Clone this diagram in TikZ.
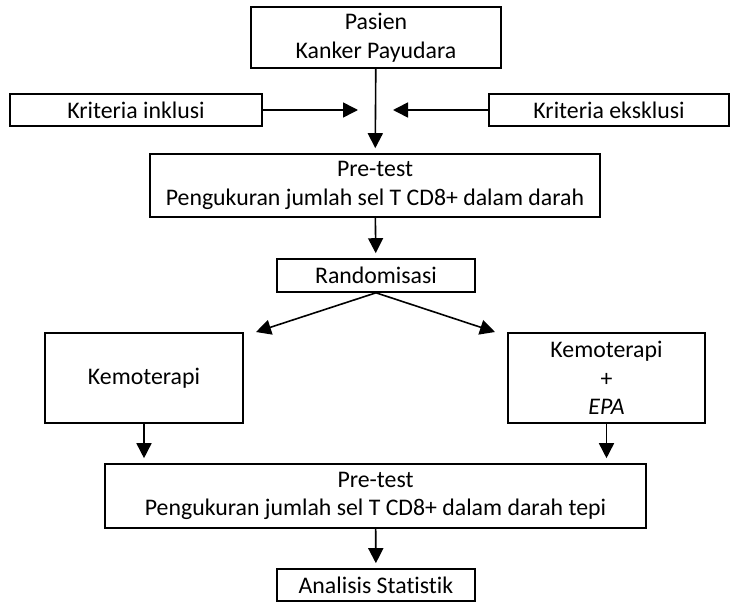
\documentclass[tikz,border=0pt]{standalone}
\usepackage{fontspec}
\setmainfont{Carlito}[Ligatures=NoCommon]
\usetikzlibrary{arrows.meta}

\begin{document}
\begin{tikzpicture}[x=1pt,y=-1pt,line width=1.6pt,>={Triangle[length=15pt,width=15pt]}]
              \useasboundingbox (0,0) rectangle (731,602);
              \begin{scope}[every node/.style={rectangle,draw,inner sep=0pt,align=center,
                      font=\fontsize{23.8}{28.5}\selectfont}]
                  \node[minimum width=250pt,minimum height=61pt] (pasien) at (376,37.5) {Pasien\\Kanker Payudara};
                  \node[minimum width=252pt,minimum height=32pt] (inklusi) at (136,110) {Kriteria inklusi};
                  \node[minimum width=240pt,minimum height=32pt] (eksklusi) at (609,110) {Kriteria eksklusi};
                  \node[minimum width=450pt,minimum height=63pt] (pretestA) at (375,185.5) {Pre-test\\Pengukuran jumlah sel T CD8+ dalam darah};
                  \node[minimum width=198pt,minimum height=33pt] (acak) at (376,275.5) {Randomisasi};
                  \node[minimum width=198pt,minimum height=90pt] (kemo) at (144,378) {Kemoterapi};
                  \node[minimum width=197pt,minimum height=90pt] (kemoepa) at (606.5,378) {Kemoterapi\\+\\\textit{EPA}};
                  \node[minimum width=541pt,minimum height=64pt] (pretestB) at (375.5,496) {Pre-test\\Pengukuran jumlah sel T CD8+ dalam darah tepi};
                  \node[minimum width=198pt,minimum height=32pt] (analisis) at (376,585) {Analisis Statistik};
              \end{scope}

              \coordinate (inA) at (358,110);
              \coordinate (exA) at (393,110);
              \coordinate (kiri) at (256,332);
              \coordinate (kanan) at (495,332);

              \begin{scope}[shorten >=5pt]
                  \path [->] (pasien) edge (pretestA);
                  \path [->] (pretestA) edge (acak);
                  \path [->] (kemo) edge (kemo |- pretestB.north);
                  \path [->] (kemoepa) edge (kemoepa |- pretestB.north);
                  \path [->] (pretestB) edge (analisis);
              \end{scope}

              \begin{scope}
                  \path [->] (inklusi) edge (inA);
                  \path [->] (eksklusi) edge (exA);
                  \path [->] (acak.south) edge (kiri);
                  \path [->] (acak.south) edge (kanan);
              \end{scope}
              \end{tikzpicture}
\end{document}
